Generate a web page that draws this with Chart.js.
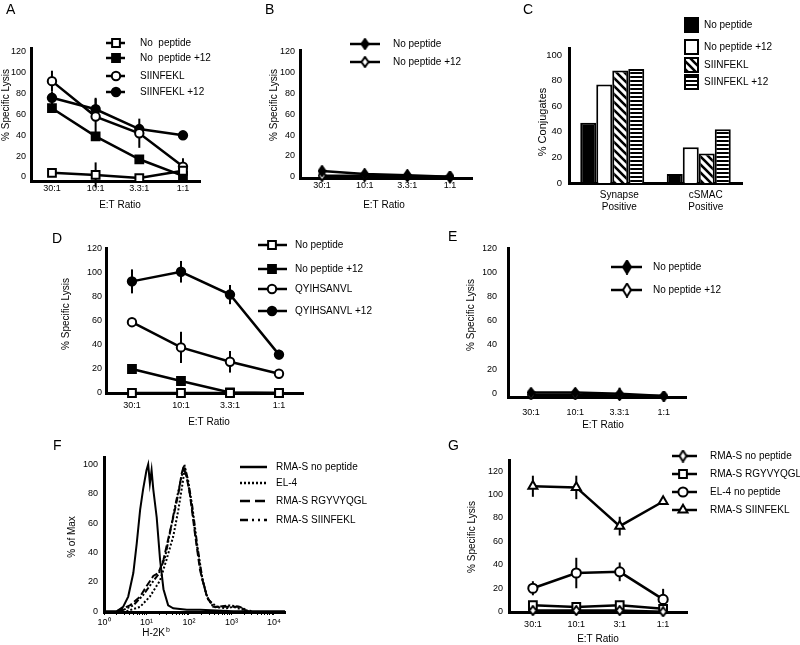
<!DOCTYPE html>
<html>
<head>
<meta charset="utf-8">
<title>Specific lysis figure</title>
<script src="https://cdn.jsdelivr.net/npm/chart.js@4.4.1/dist/chart.umd.min.js"></script>
<style>
html,body{margin:0;padding:0;background:#fff;}
#page{position:relative;width:800px;height:645px;overflow:hidden;background:#fff;}
#page canvas{position:absolute;left:0;top:0;}
.plab{position:absolute;font-family:"Liberation Sans",Arial,sans-serif;font-size:14px;line-height:14px;color:#000;}
</style>
</head>
<body>
<div id="page">
<canvas id="cA" width="800" height="645"></canvas>
<canvas id="cB" width="800" height="645"></canvas>
<canvas id="cC" width="800" height="645"></canvas>
<canvas id="cD" width="800" height="645"></canvas>
<canvas id="cE" width="800" height="645"></canvas>
<canvas id="cF" width="800" height="645"></canvas>
<canvas id="cG" width="800" height="645"></canvas>
<div class="plab" style="left:6px;top:2px">A</div>
<div class="plab" style="left:265px;top:2px">B</div>
<div class="plab" style="left:523px;top:2px">C</div>
<div class="plab" style="left:52px;top:231px">D</div>
<div class="plab" style="left:448px;top:229px">E</div>
<div class="plab" style="left:53px;top:438px">F</div>
<div class="plab" style="left:448px;top:438px">G</div>
</div>
<script>
// ---------------- DATA ----------------
const etCats = ['30:1', '10:1', '3.3:1', '1:1'];
const gCats = ['30:1', '10:1', '3:1', '1:1'];
const yTicks120 = [0, 20, 40, 60, 80, 100, 120];
const yTicks100 = [0, 20, 40, 60, 80, 100];

// Panel A
const aNoPep = [4, 2, -1, 6];
const aNoPepErr = [3, 12, 1, 3];
const aNoPep12 = [66, 39, 17, 1];
const aNoPep12Err = [3, 4, 3, 2];
const aSiin = [92, 58, 42, 10];
const aSiinErr = [10, 18, 14, 8];
const aSiin12 = [76, 65, 46, 40];
const aSiin12Err = [6, 10, 5, 2];

// Panel B
const bNoPep = [5.5, 2.5, 1.5, 0];
const bNoPep12 = [1, 1, 0.5, 0];

// Panel C
const cCats = [['Synapse', 'Positive'], ['cSMAC', 'Positive']];
const cNoPep = [47, 7];
const cNoPep12 = [77, 28];
const cSiin = [88, 23];
const cSiin12 = [89, 42];

// Panel D
const dNoPep = [0, 0, 0, 0];
const dNoPep12 = [20, 10, 0.5, 0];
const dNoPep12Err = [1, 1, 1, 0];
const dQy = [59, 38, 26, 16];
const dQyErr = [3, 13, 9, 4];
const dQy12 = [93, 101, 82, 32];
const dQy12Err = [10, 9, 8, 4];

// Panel E
const eNoPep = [0.5, 0.5, -0.5, -2.5];
const eNoPepErr = [0, 0, 5, 0];
const eNoPep12 = [-1.5, -1.5, -2, -2.5];

// Panel F (x as log10 of H-2Kb intensity, y as % of max)
const fSolidLogX = [0, 0.30, 0.45, 0.57, 0.69, 0.77, 0.85, 0.92, 1.00, 1.04, 1.08, 1.12, 1.16, 1.24, 1.32, 1.40, 1.51, 1.63, 1.95, 2.26, 3.04, 4.26];
const fSolidY    = [0, 0, 3, 10, 26, 46, 69, 83, 96, 100, 87, 96, 83, 64, 35, 15, 4, 2, 1, 1, 0, 0];
const fEl4LogX = [0.53, 0.85, 1.08, 1.32, 1.47, 1.63, 1.75, 1.86, 1.90, 1.98, 2.06, 2.18, 2.30, 2.42, 2.57, 2.89, 3.04, 3.28, 3.51];
const fEl4Y    = [0, 3, 10, 21, 35, 51, 69, 89, 98, 87, 73, 46, 24, 10, 3, 2, 3, 1, 0];
const fRgyLogX = [0.30, 0.61, 0.85, 1.00, 1.16, 1.28, 1.40, 1.51, 1.63, 1.75, 1.83, 1.87, 1.94, 2.02, 2.14, 2.26, 2.42, 2.57, 2.89, 3.20, 3.36];
const fRgyY    = [0, 4, 10, 17, 24, 26, 35, 49, 64, 80, 94, 98, 92, 80, 53, 28, 10, 3, 3, 3, 0];
const fSiinLogX = [0.38, 0.69, 0.92, 1.12, 1.28, 1.44, 1.55, 1.67, 1.79, 1.89, 1.98, 2.08, 2.19, 2.32, 2.45, 2.65, 2.96, 3.20, 3.40];
const fSiinY    = [0, 4, 11, 19, 25, 37, 53, 71, 87, 100, 89, 71, 46, 21, 8, 3, 4, 3, 0];
const fDecades = [0, 1, 2, 3, 4];

// Panel G
const gNoPep = [1, 1, 1, 0];
const gRgy = [5.5, 4, 5.5, 2.5];
const gRgyErr = [1, 1, 1, 1];
const gEl4 = [20, 33, 34, 10.5];
const gEl4Err = [6, 13, 8, 9];
const gSiin = [107, 106, 73, 94];
const gSiinErr = [9, 10, 8, 3];

// ---------------- HELPERS ----------------
const FONT = '"Liberation Sans", Arial, Helvetica, sans-serif';
Chart.defaults.font.family = FONT;
Chart.defaults.color = '#000';
const YW = 25, XH = 20;

function diamond(fill, w, h) {
  const c = document.createElement('canvas'); c.width = w; c.height = h;
  const x = c.getContext('2d');
  x.beginPath(); x.moveTo(w / 2, 1); x.lineTo(w - 1, h / 2); x.lineTo(w / 2, h - 1); x.lineTo(1, h / 2); x.closePath();
  x.fillStyle = fill; x.fill(); x.lineWidth = 2; x.strokeStyle = '#000'; x.stroke();
  return c;
}
const pctx = document.createElement('canvas').getContext('2d');
function diagPattern() {
  const c = document.createElement('canvas'); c.width = 8; c.height = 8;
  const x = c.getContext('2d');
  x.fillStyle = '#fff'; x.fillRect(0, 0, 8, 8);
  x.strokeStyle = '#000'; x.lineWidth = 2.6;
  x.beginPath();
  x.moveTo(-4, -4); x.lineTo(12, 12);
  x.moveTo(-4, 4); x.lineTo(4, 12);
  x.moveTo(4, -4); x.lineTo(12, 4);
  x.stroke();
  return pctx.createPattern(c, 'repeat');
}
function horizPattern() {
  const c = document.createElement('canvas'); c.width = 4; c.height = 4;
  const x = c.getContext('2d');
  x.fillStyle = '#fff'; x.fillRect(0, 0, 4, 4);
  x.fillStyle = '#000'; x.fillRect(0, 0, 4, 2);
  return pctx.createPattern(c, 'repeat');
}
const DIAG = diagPattern(), HORIZ = horizPattern();

function text(ctx, s, x, y, size, align, rot) {
  ctx.save();
  ctx.font = size + 'px ' + FONT;
  ctx.fillStyle = '#000';
  ctx.textAlign = align || 'center';
  ctx.textBaseline = 'middle';
  ctx.translate(x, y);
  if (rot) ctx.rotate(rot);
  ctx.fillText(s, 0, 0);
  ctx.restore();
}
function marker(ctx, style, fill, radius, x, y) {
  ctx.save();
  ctx.fillStyle = fill; ctx.strokeStyle = '#000'; ctx.lineWidth = 2;
  Chart.helpers.drawPoint(ctx, {pointStyle: style, radius: radius, borderWidth: 2, rotation: 0}, x, y);
  ctx.restore();
}
function lineLegend(ctx, L) {
  L.rows.forEach(r => {
    ctx.save();
    ctx.strokeStyle = '#000'; ctx.lineWidth = 2.5; ctx.setLineDash(r.dash || []);
    ctx.beginPath(); ctx.moveTo(L.x0, r.y); ctx.lineTo(L.x1, r.y); ctx.stroke();
    ctx.restore();
    if (r.style) marker(ctx, r.style, r.fill, r.radius, L.xm, r.y);
    text(ctx, r.text, L.xt, r.y, 10, 'left');
  });
}
function drawErrs(chart, errs) {
  const ctx = chart.ctx, xs = chart.scales.x, ys = chart.scales.y;
  ctx.save(); ctx.strokeStyle = '#000'; ctx.lineWidth = 2;
  errs.forEach((arr, di) => {
    if (!arr) return;
    const vals = chart.data.datasets[di].data;
    arr.forEach((e, j) => {
      if (!e) return;
      const v = vals[j].y, px = xs.getPixelForValue(j);
      ctx.beginPath(); ctx.moveTo(px, ys.getPixelForValue(v + e)); ctx.lineTo(px, ys.getPixelForValue(v - e)); ctx.stroke();
    });
  });
  ctx.restore();
}
function padFor(box, xh) {
  return {left: box.l - YW, top: box.t, right: 800 - box.r, bottom: 645 - box.b - xh};
}
function yScale(yr, ticks, pad, size) {
  return {
    type: 'linear', min: yr[0], max: yr[1],
    afterBuildTicks: a => { a.ticks = ticks.map(v => ({value: v})); },
    afterFit: a => { a.width = YW; },
    grid: {display: false, drawTicks: false},
    border: {display: true, width: 3, color: '#000'},
    ticks: {font: {family: FONT, size: size || 9}, color: '#000', padding: pad, autoSkip: false, callback: v => String(v)}
  };
}
function xRatio(cats, xr, pad) {
  return {
    type: 'linear', min: xr[0], max: xr[1],
    afterBuildTicks: a => { a.ticks = cats.map((c, i) => ({value: i})); },
    afterFit: a => { a.height = XH; },
    grid: {display: false, drawTicks: false},
    border: {display: true, width: 3, color: '#000'},
    ticks: {font: {family: FONT, size: 9}, color: '#000', padding: pad, autoSkip: false, maxRotation: 0, callback: v => cats[v]}
  };
}
function series(data, style, fill, radius) {
  return {
    data: data.map((v, i) => ({x: i, y: v})),
    borderColor: '#000', borderWidth: 2.5, tension: 0, fill: false, clip: false,
    pointStyle: style, pointRadius: radius, pointBackgroundColor: fill,
    pointBorderColor: '#000', pointBorderWidth: 2
  };
}
function ratioPanel(id, p) {
  new Chart(document.getElementById(id), {
    type: 'line',
    data: {datasets: p.sets},
    options: {
      responsive: false, animation: false, events: [],
      layout: {padding: padFor(p.box, XH)},
      plugins: {legend: {display: false}, tooltip: {enabled: false}},
      scales: {x: xRatio(p.cats, p.xr, p.xpad), y: yScale(p.yr, p.yt, p.ypad)}
    },
    plugins: [{
      id: 'deco' + id,
      beforeDatasetsDraw(chart) { drawErrs(chart, p.errs); },
      afterDraw(chart) {
        const ctx = chart.ctx;
        lineLegend(ctx, p.legend);
        text(ctx, '% Specific Lysis', p.ytitle[0], p.ytitle[1], 10, 'center', -Math.PI / 2);
        text(ctx, 'E:T Ratio', p.xtitle[0], p.xtitle[1], 10, 'center');
      }
    }]
  });
}

// ---------------- PANEL A ----------------
ratioPanel('cA', {
  box: {l: 31, r: 200, t: 48, b: 181}, cats: etCats, xr: [-0.48, 3.39], yr: [-3.84, 123.8], yt: yTicks120,
  xpad: 2, ypad: 5,
  sets: [series(aNoPep, 'rect', '#fff', 5.5), series(aNoPep12, 'rect', '#000', 5.5),
         series(aSiin, 'circle', '#fff', 4.2), series(aSiin12, 'circle', '#000', 4.2)],
  errs: [aNoPepErr, aNoPep12Err, aSiinErr, aSiin12Err],
  ytitle: [6, 105], xtitle: [120, 205],
  legend: {x0: 106, x1: 125, xm: 116, xt: 140, rows: [
    {y: 43, text: 'No  peptide', style: 'rect', fill: '#fff', radius: 5.5},
    {y: 58, text: 'No  peptide +12', style: 'rect', fill: '#000', radius: 5.5},
    {y: 76, text: 'SIINFEKL', style: 'circle', fill: '#fff', radius: 4.2},
    {y: 92, text: 'SIINFEKL +12', style: 'circle', fill: '#000', radius: 4.2}]}
});

// ---------------- PANEL B ----------------
const dBlk = diamond('#000', 9, 12), dWht = diamond('#fff', 9, 12);
ratioPanel('cB', {
  box: {l: 300, r: 472, t: 50, b: 178}, cats: etCats, xr: [-0.516, 3.516], yr: [-1.25, 121.9], yt: yTicks120,
  xpad: 2, ypad: 5,
  sets: [series(bNoPep, dBlk, '#000', 5), series(bNoPep12, dWht, '#fff', 5)],
  errs: [null, null],
  ytitle: [274, 105], xtitle: [384, 205],
  legend: {x0: 350, x1: 380, xm: 365, xt: 393, rows: [
    {y: 44, text: 'No peptide', style: dBlk, fill: '#000', radius: 5},
    {y: 62, text: 'No peptide +12', style: dWht, fill: '#fff', radius: 5}]}
});

// ---------------- PANEL C ----------------
(function () {
  const box = {l: 569, r: 742, t: 48, b: 183};
  const fills = ['#000', '#fff', DIAG, HORIZ];
  const names = ['No peptide', 'No peptide +12', 'SIINFEKL', 'SIINFEKL +12'];
  const vals = [cNoPep, cNoPep12, cSiin, cSiin12];
  new Chart(document.getElementById('cC'), {
    type: 'bar',
    data: {
      labels: cCats,
      datasets: vals.map((v, i) => ({
        label: names[i], data: v, backgroundColor: fills[i], borderColor: '#000', borderWidth: 2,
        categoryPercentage: 0.74, barPercentage: 1.0
      }))
    },
    options: {
      responsive: false, animation: false, events: [],
      layout: {padding: padFor(box, 35)},
      plugins: {legend: {display: false}, tooltip: {enabled: false}},
      scales: {
        x: {
          type: 'category',
          afterFit: a => { a.height = 35; },
          grid: {display: false, drawTicks: false},
          border: {display: true, width: 3, color: '#000'},
          ticks: {font: {family: FONT, size: 10}, color: '#000', padding: 6, labelOffset: 7, maxRotation: 0, autoSkip: false}
        },
        y: yScale([0, 105.5], yTicks100, 7, 9.5)
      }
    },
    plugins: [{
      id: 'decoC',
      afterDraw(chart) {
        const ctx = chart.ctx;
        const ys = [25, 47, 65, 82];
        ys.forEach((y, i) => {
          ctx.save();
          ctx.fillStyle = fills[i]; ctx.fillRect(685, y - 7, 13, 14);
          ctx.strokeStyle = '#000'; ctx.lineWidth = 2; ctx.strokeRect(685, y - 7, 13, 14);
          ctx.restore();
          text(ctx, names[i], 704, y, 10, 'left');
        });
        text(ctx, '% Conjugates', 543, 122, 11, 'center', -Math.PI / 2);
      }
    }]
  });
})();

// ---------------- PANEL D ----------------
ratioPanel('cD', {
  box: {l: 106, r: 303, t: 248, b: 393}, cats: etCats, xr: [-0.53, 3.49], yr: [0, 120.8], yt: yTicks120,
  xpad: 7.5, ypad: 4,
  sets: [series(dNoPep, 'rect', '#fff', 5.5), series(dNoPep12, 'rect', '#000', 5.5),
         series(dQy, 'circle', '#fff', 4.2), series(dQy12, 'circle', '#000', 4.2)],
  errs: [null, dNoPep12Err, dQyErr, dQy12Err],
  ytitle: [66, 314], xtitle: [209, 422],
  legend: {x0: 258, x1: 287, xm: 272, xt: 295, rows: [
    {y: 245, text: 'No peptide', style: 'rect', fill: '#fff', radius: 5.5},
    {y: 269, text: 'No peptide +12', style: 'rect', fill: '#000', radius: 5.5},
    {y: 289, text: 'QYIHSANVL', style: 'circle', fill: '#fff', radius: 4.2},
    {y: 311, text: 'QYIHSANVL +12', style: 'circle', fill: '#000', radius: 4.2}]}
});

// ---------------- PANEL E ----------------
const eBlkL = diamond('#000', 10, 15), eWhtL = diamond('#fff', 10, 15);
const eBlk = diamond('#000', 9, 11), eWht = diamond('#fff', 9, 11);
ratioPanel('cE', {
  box: {l: 508, r: 686, t: 248, b: 397}, cats: etCats, xr: [-0.52, 3.5], yr: [-3.3, 120.8], yt: yTicks120,
  xpad: 10.5, ypad: 11,
  sets: [series(eNoPep, eBlk, '#000', 5), series(eNoPep12, eWht, '#fff', 5)],
  errs: [eNoPepErr, null],
  ytitle: [471, 315], xtitle: [603, 425],
  legend: {x0: 611, x1: 642, xm: 627, xt: 653, rows: [
    {y: 267, text: 'No peptide', style: eBlkL, fill: '#000', radius: 5},
    {y: 290, text: 'No peptide +12', style: eWhtL, fill: '#fff', radius: 5}]}
});

// ---------------- PANEL F ----------------
(function () {
  const box = {l: 104, r: 285, t: 457, b: 612};
  const sup = ['\u2070', '\u00B9', '\u00B2', '\u00B3', '\u2074'];
  const mk = (lx, y, dash, w) => ({
    data: lx.map((e, i) => ({x: Math.pow(10, e), y: y[i]})),
    borderColor: '#000', borderWidth: w, borderDash: dash, pointRadius: 0, tension: 0, fill: false, clip: false
  });
  const legendRows = [
    {y: 467, text: 'RMA-S no peptide', dash: []},
    {y: 483, text: 'EL-4', dash: [2, 2]},
    {y: 501, text: 'RMA-S RGYVYQGL', dash: [10, 5]},
    {y: 520, text: 'RMA-S SIINFEKL', dash: [8, 4, 2, 4, 2, 4]}
  ];
  new Chart(document.getElementById('cF'), {
    type: 'line',
    data: {datasets: [
      mk(fSolidLogX, fSolidY, [], 2),
      mk(fEl4LogX, fEl4Y, [2, 2], 2),
      mk(fRgyLogX, fRgyY, [7, 3], 2),
      mk(fSiinLogX, fSiinY, [6, 2, 2, 2, 2, 2], 2)
    ]},
    options: {
      responsive: false, animation: false, events: [],
      layout: {padding: padFor(box, XH)},
      plugins: {legend: {display: false}, tooltip: {enabled: false}},
      scales: {
        x: {
          type: 'logarithmic', min: 1, max: 18200,
          afterBuildTicks: a => {
            const t = [];
            fDecades.forEach(d => { for (let m = 1; m <= 9; m++) { const v = m * Math.pow(10, d); if (v <= 18200) t.push({value: v}); } });
            a.ticks = t;
          },
          afterFit: a => { a.height = XH; },
          grid: {display: true, drawOnChartArea: false, drawTicks: true, tickLength: 3, color: '#000', lineWidth: 1},
          border: {display: true, width: 3, color: '#000'},
          ticks: {font: {family: FONT, size: 9}, color: '#000', padding: 2.5, autoSkip: false, maxRotation: 0,
            callback: v => { const e = Math.log10(v); const r = Math.round(e); return Math.abs(e - r) < 1e-6 ? '10' + sup[r] : ''; }}
        },
        y: yScale([-0.5, 105], yTicks100, 6)
      }
    },
    plugins: [{
      id: 'decoF',
      afterDraw(chart) {
        const ctx = chart.ctx;
        lineLegend(ctx, {x0: 240, x1: 267, xt: 276, rows: legendRows});
        text(ctx, '% of Max', 72, 537, 10, 'center', -Math.PI / 2);
        text(ctx, 'H-2K', 165, 633, 10, 'right');
        text(ctx, 'b', 166, 630, 7, 'left');
      }
    }]
  });
})();

// ---------------- PANEL G ----------------
const gDia = diamond('#fff', 9, 11), gDiaL = diamond('#fff', 9, 13);
ratioPanel('cG', {
  box: {l: 509, r: 687, t: 460, b: 612}, cats: gCats, xr: [-0.55, 3.55], yr: [-0.26, 129.4], yt: yTicks120,
  xpad: 7.5, ypad: 6,
  sets: [series(gNoPep, gDia, '#fff', 5), series(gRgy, 'rect', '#fff', 5.5),
         series(gEl4, 'circle', '#fff', 4.6), series(gSiin, 'triangle', '#fff', 5.2)],
  errs: [null, gRgyErr, gEl4Err, gSiinErr],
  ytitle: [472, 537], xtitle: [598, 639],
  legend: {x0: 672, x1: 697, xm: 683, xt: 710, rows: [
    {y: 456, text: 'RMA-S no peptide', style: gDiaL, fill: '#fff', radius: 5},
    {y: 474, text: 'RMA-S RGYVYQGL', style: 'rect', fill: '#fff', radius: 5.5},
    {y: 492, text: 'EL-4 no peptide', style: 'circle', fill: '#fff', radius: 4.6},
    {y: 510, text: 'RMA-S SIINFEKL', style: 'triangle', fill: '#fff', radius: 5.2}]}
});
</script>
</body>
</html>
